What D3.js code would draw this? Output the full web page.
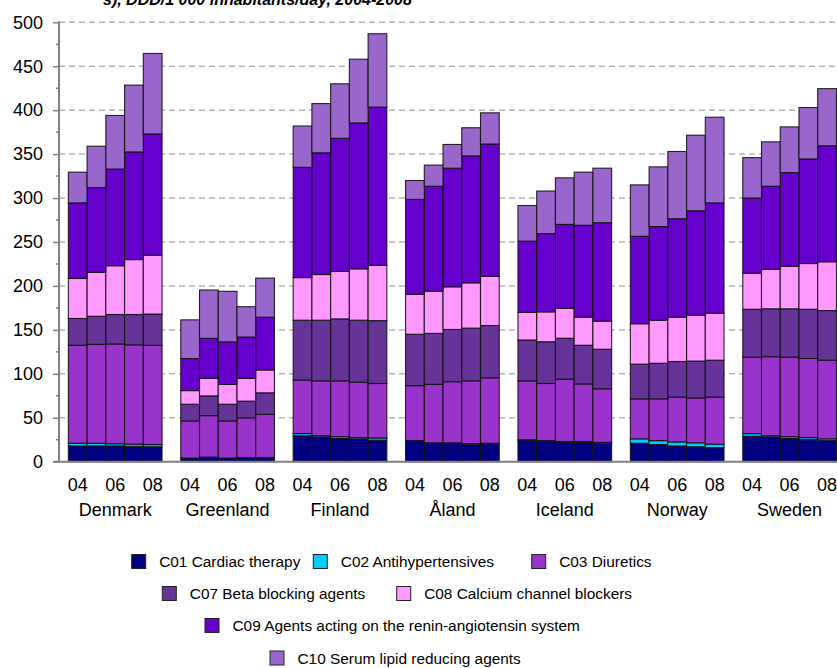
<!DOCTYPE html>
<html><head><meta charset="utf-8">
<script src="https://cdn.jsdelivr.net/npm/d3@7"></script>
<style>body{margin:0;background:#fff}svg{display:block;font-family:"Liberation Sans",Arial,sans-serif}</style>
</head><body><svg id="c" width="837" height="668"></svg>
<script>
const countries = ["Denmark","Greenland","Finland","Åland","Iceland","Norway","Sweden"];
const years = ["04","05","06","07","08"];
const yearTickLabels = ["04","06","08"];
const yTicks = [0,50,100,150,200,250,300,350,400,450,500];
const seriesNames = ["C01 Cardiac therapy","C02 Antihypertensives","C03 Diuretics","C07 Beta blocking agents","C08 Calcium channel blockers","C09 Agents acting on the renin-angiotensin system","C10 Serum lipid reducing agents"];
const seriesColors = ["#000080","#00CCFF","#9933CC","#663399","#FF99FF","#6600CC","#9966CC"];
const titleText = "s), DDD/1 000 inhabitants/day, 2004-2008";

// values per series, country-major (5 years each)
const C01 = [18,18,18,17.5,17, 4,5,4,4.5,4.5, 29.5,28,26.5,26,24.5, 23.5,21,21,20,20.5, 24,23,22,22,21, 21,19.5,18,17,16, 29,28,26.5,25.5,24];
const C02 = [3,3,2.5,2.5,2.5, 0.2,0.2,0.2,0.2,0.2, 2.5,1.5,2,1.5,2.5, 0.5,0.5,0.5,0.5,0.5, 1,1,1,1,1, 5,4.5,4.5,4.5,4, 3,1.5,2,2,2];
const C03 = [111.5,112.5,113.5,113,113, 42.2,47.2,42.2,45.2,49.2, 61,62.5,63.5,63,62, 62.5,66.5,69.5,71.5,74.5, 67,65,71,65.5,61, 45.5,47.5,51,51,53.5, 87,90,90.5,90,89.5];
const C07 = [30.5,32,33.5,34.5,35.5, 19,22.5,19,19,24.5, 68,69,70.5,70.5,71.5, 58.5,58,59.5,60,59.5, 46.5,47.5,46.5,44,45, 39.5,40.5,40.5,42,42, 54.5,54.5,55,56,56.5];
const C08 = [45.5,50,55.5,62.5,67, 15.5,20,22.5,26,26, 48.5,52,54,58.5,63, 45.5,48,48.5,51.5,56, 31.5,34,34,32,32, 46,49,50.5,52,53.5, 41,45,48.5,52,55.5];
const C09 = [86,96.5,110,122.5,138, 36.5,45.5,48.5,47,60, 125.5,138.5,151.5,166,180, 108,119.5,135,144.5,150.5, 81,89,95.5,104.5,112, 99.5,106.5,112,119,125.5, 85.5,94.5,106.5,119,132];
const C10 = [35,47,61,76,91.5, 44,55,57.5,34.5,44.5, 47,56,62,72.5,83.5, 21.5,24,27,32,35.5, 40.5,48.5,53,60.5,62, 58.5,68,76.5,86,97.5, 46,50.5,52,58.5,65];
const seriesValues = [C01,C02,C03,C07,C08,C09,C10];

const svg = d3.select("#c");
const x0 = 59, yBottom = 461.7, yTop = 22.3, groupW = 112.4;
const xC = d3.scaleBand().domain(countries).range([x0, x0 + groupW*countries.length]);
const xY = d3.scaleBand().domain(years).range([0, xC.bandwidth()]).paddingOuter(0.5);
const y = d3.scaleLinear().domain([0,500]).range([yBottom, yTop]);

const rows = [];
countries.forEach((c,ci)=>years.forEach((yr,yi)=>{
  const r = {country:c, year:yr};
  seriesNames.forEach((s,si)=>r[s]=seriesValues[si][ci*5+yi]);
  rows.push(r);
}));
const stacked = d3.stack().keys(seriesNames)(rows);

// grid
svg.append("g").selectAll("line").data(yTicks.filter(d=>d>0)).join("line")
  .attr("x1",x0).attr("x2",837).attr("y1",d=>y(d)).attr("y2",d=>y(d))
  .attr("stroke","#b4b4b4").attr("stroke-width",1.5).attr("stroke-dasharray","6,4");

// title (clipped at top, as in the reference)
svg.append("text").attr("x",103).attr("y",4.5).attr("font-size",16).attr("font-weight","bold")
  .attr("font-style","italic").text(titleText);

// bars
svg.append("g").selectAll("g").data(stacked).join("g")
  .attr("fill",(d,i)=>seriesColors[i])
  .selectAll("rect").data(d=>d).join("rect")
  .attr("x",d=>xC(d.data.country)+xY(d.data.year))
  .attr("width",xY.bandwidth())
  .attr("y",d=>y(d[1]))
  .attr("height",d=>Math.max(0,y(d[0])-y(d[1])))
  .attr("stroke","#111").attr("stroke-width",1.1).attr("stroke-opacity",0.9);

// y axis
const yAxis = d3.axisLeft(y).tickValues(yTicks).tickSize(6).tickPadding(10);
const gy = svg.append("g").attr("transform",`translate(${x0},0)`).call(yAxis);
gy.select(".domain").attr("stroke","#808080").attr("stroke-width",2).attr("d",`M0,${yBottom}V${yTop-1}`);
gy.selectAll(".tick line").attr("stroke","#808080").attr("stroke-width",1.5);
gy.selectAll(".tick text").attr("font-size",18).attr("font-family","Liberation Sans, Arial").attr("fill","#000");
const minor = d3.range(25,500,50);
svg.append("g").selectAll("line").data(minor).join("line")
  .attr("x1",x0-3).attr("x2",x0).attr("y1",d=>y(d)).attr("y2",d=>y(d))
  .attr("stroke","#808080").attr("stroke-width",1.5);

// x axis line
svg.append("line").attr("x1",x0-6).attr("x2",837).attr("y1",yBottom).attr("y2",yBottom)
  .attr("stroke","#808080").attr("stroke-width",2);

// year & country labels
const yl = svg.append("g");
countries.forEach(c=>{
  yearTickLabels.forEach(yr=>{
    yl.append("text").attr("x",xC(c)+xY(yr)+xY.bandwidth()/2).attr("y",491)
      .attr("text-anchor","middle").attr("font-size",18).text(yr);
  });
  yl.append("text").attr("x",xC(c)+xC.bandwidth()/2).attr("y",516)
    .attr("text-anchor","middle").attr("font-size",18).text(c);
});

// legend
const legendRows = [
  {y:561.5, items:[{i:0,x:131.7},{i:1,x:313.3},{i:2,x:531.7}]},
  {y:593.5, items:[{i:3,x:162.3},{i:4,x:396.7}]},
  {y:625.5, items:[{i:5,x:205}]},
  {y:658, items:[{i:6,x:270}]}
];
const lg = svg.append("g");
legendRows.forEach(r=>r.items.forEach(it=>{
  lg.append("rect").attr("x",it.x).attr("y",r.y-7).attr("width",14).attr("height",14)
    .attr("fill",seriesColors[it.i]).attr("stroke","#222").attr("stroke-width",1);
  lg.append("text").attr("x",it.x+27.5).attr("y",r.y+5.5).attr("font-size",15.4).text(seriesNames[it.i]);
}));
</script></body></html>
